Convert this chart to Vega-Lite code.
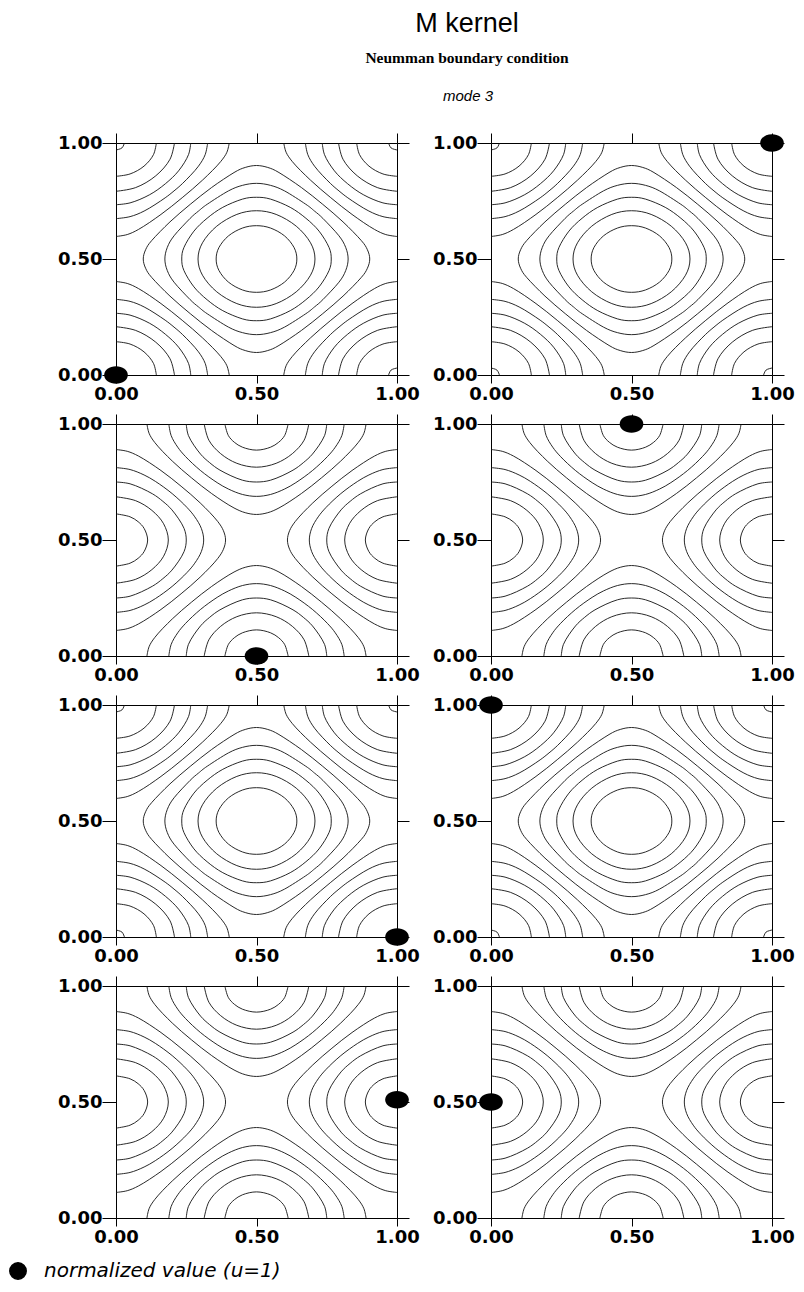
{
  "$schema": "https://vega.github.io/schema/vega-lite/v6.json",
  "background": "white",
  "padding": {"top": 10, "left": 8, "right": 5, "bottom": 5},
  "title": {
    "text": "M kernel",
    "subtitle": "Neumman boundary condition",
    "anchor": "middle",
    "frame": "group",
    "dx": 351,
    "offset": 21,
    "font": "Liberation Sans",
    "fontSize": 27,
    "fontWeight": "normal",
    "color": "black",
    "subtitleFont": "Liberation Serif",
    "subtitleFontSize": 15.5,
    "subtitleFontWeight": "bold",
    "subtitleColor": "black",
    "subtitlePadding": 13
  },
  "datasets": {
    "ringsA": [
      {"k":"r1","x":0.6436,"y":0.5},{"k":"r1","x":0.6334,"y":0.55},{"k":"r1","x":0.5997,"y":0.5997},{"k":"r1","x":0.55,"y":0.6334},{"k":"r1","x":0.5,"y":0.6436},{"k":"r1","x":0.45,"y":0.6334},{"k":"r1","x":0.4003,"y":0.5997},{"k":"r1","x":0.3666,"y":0.55},{"k":"r1","x":0.3564,"y":0.5},{"k":"r1","x":0.3666,"y":0.45},{"k":"r1","x":0.4003,"y":0.4003},{"k":"r1","x":0.45,"y":0.3666},{"k":"r1","x":0.5,"y":0.3564},{"k":"r1","x":0.55,"y":0.3666},{"k":"r1","x":0.5997,"y":0.4003},{"k":"r1","x":0.6334,"y":0.45},
      {"k":"r2","x":0.7081,"y":0.5},{"k":"r2","x":0.6922,"y":0.57},{"k":"r2","x":0.6415,"y":0.6415},{"k":"r2","x":0.57,"y":0.6922},{"k":"r2","x":0.5,"y":0.7081},{"k":"r2","x":0.43,"y":0.6922},{"k":"r2","x":0.3585,"y":0.6415},{"k":"r2","x":0.3078,"y":0.57},{"k":"r2","x":0.2919,"y":0.5},{"k":"r2","x":0.3078,"y":0.43},{"k":"r2","x":0.3585,"y":0.3585},{"k":"r2","x":0.43,"y":0.3078},{"k":"r2","x":0.5,"y":0.2919},{"k":"r2","x":0.57,"y":0.3078},{"k":"r2","x":0.6415,"y":0.3585},{"k":"r2","x":0.6922,"y":0.43},
      {"k":"r3","x":0.766,"y":0.5},{"k":"r3","x":0.7581,"y":0.55},{"k":"r3","x":0.7227,"y":0.62},{"k":"r3","x":0.6757,"y":0.6757},{"k":"r3","x":0.62,"y":0.7227},{"k":"r3","x":0.55,"y":0.7581},{"k":"r3","x":0.5,"y":0.766},{"k":"r3","x":0.45,"y":0.7581},{"k":"r3","x":0.38,"y":0.7227},{"k":"r3","x":0.3243,"y":0.6757},{"k":"r3","x":0.2773,"y":0.62},{"k":"r3","x":0.2419,"y":0.55},{"k":"r3","x":0.234,"y":0.5},{"k":"r3","x":0.2419,"y":0.45},{"k":"r3","x":0.2773,"y":0.38},{"k":"r3","x":0.3243,"y":0.3243},{"k":"r3","x":0.38,"y":0.2773},{"k":"r3","x":0.45,"y":0.2419},{"k":"r3","x":0.5,"y":0.234},{"k":"r3","x":0.55,"y":0.2419},{"k":"r3","x":0.62,"y":0.2773},{"k":"r3","x":0.6757,"y":0.3243},{"k":"r3","x":0.7227,"y":0.38},{"k":"r3","x":0.7581,"y":0.45},
      {"k":"r4","x":0.8261,"y":0.5},{"k":"r4","x":0.8174,"y":0.55},{"k":"r4","x":0.7934,"y":0.6},{"k":"r4","x":0.7363,"y":0.675},{"k":"r4","x":0.7065,"y":0.7065},{"k":"r4","x":0.675,"y":0.7363},{"k":"r4","x":0.6,"y":0.7934},{"k":"r4","x":0.55,"y":0.8174},{"k":"r4","x":0.5,"y":0.8261},{"k":"r4","x":0.45,"y":0.8174},{"k":"r4","x":0.4,"y":0.7934},{"k":"r4","x":0.325,"y":0.7363},{"k":"r4","x":0.2935,"y":0.7065},{"k":"r4","x":0.2637,"y":0.675},{"k":"r4","x":0.2066,"y":0.6},{"k":"r4","x":0.1826,"y":0.55},{"k":"r4","x":0.1739,"y":0.5},{"k":"r4","x":0.1826,"y":0.45},{"k":"r4","x":0.2066,"y":0.4},{"k":"r4","x":0.2637,"y":0.325},{"k":"r4","x":0.2935,"y":0.2935},{"k":"r4","x":0.325,"y":0.2637},{"k":"r4","x":0.4,"y":0.2066},{"k":"r4","x":0.45,"y":0.1826},{"k":"r4","x":0.5,"y":0.1739},{"k":"r4","x":0.55,"y":0.1826},{"k":"r4","x":0.6,"y":0.2066},{"k":"r4","x":0.675,"y":0.2637},{"k":"r4","x":0.7065,"y":0.2935},{"k":"r4","x":0.7363,"y":0.325},{"k":"r4","x":0.7934,"y":0.4},{"k":"r4","x":0.8174,"y":0.45},
      {"k":"r5","x":0.903,"y":0.5},{"k":"r5","x":0.8946,"y":0.54},{"k":"r5","x":0.8726,"y":0.58},{"k":"r5","x":0.8079,"y":0.66},{"k":"r5","x":0.7357,"y":0.7357},{"k":"r5","x":0.66,"y":0.8079},{"k":"r5","x":0.58,"y":0.8726},{"k":"r5","x":0.54,"y":0.8946},{"k":"r5","x":0.5,"y":0.903},{"k":"r5","x":0.46,"y":0.8946},{"k":"r5","x":0.42,"y":0.8726},{"k":"r5","x":0.34,"y":0.8079},{"k":"r5","x":0.2643,"y":0.7357},{"k":"r5","x":0.1921,"y":0.66},{"k":"r5","x":0.1274,"y":0.58},{"k":"r5","x":0.1054,"y":0.54},{"k":"r5","x":0.097,"y":0.5},{"k":"r5","x":0.1054,"y":0.46},{"k":"r5","x":0.1274,"y":0.42},{"k":"r5","x":0.1921,"y":0.34},{"k":"r5","x":0.2643,"y":0.2643},{"k":"r5","x":0.34,"y":0.1921},{"k":"r5","x":0.42,"y":0.1274},{"k":"r5","x":0.46,"y":0.1054},{"k":"r5","x":0.5,"y":0.097},{"k":"r5","x":0.54,"y":0.1054},{"k":"r5","x":0.58,"y":0.1274},{"k":"r5","x":0.66,"y":0.1921},{"k":"r5","x":0.7357,"y":0.2643},{"k":"r5","x":0.8079,"y":0.34},{"k":"r5","x":0.8726,"y":0.42},{"k":"r5","x":0.8946,"y":0.46}
    ],
    "arcsA": [
      {"k":"LLt","x":0.03,"y":0},{"k":"LLt","x":0.0212,"y":0.0212},{"k":"LLt","x":0,"y":0.03},
      {"k":"LL1","x":0.1436,"y":0},{"k":"LL1","x":0.1334,"y":0.05},{"k":"LL1","x":0.0997,"y":0.0997},{"k":"LL1","x":0.05,"y":0.1334},{"k":"LL1","x":0,"y":0.1436},
      {"k":"LL2","x":0.2081,"y":0},{"k":"LL2","x":0.1922,"y":0.07},{"k":"LL2","x":0.1415,"y":0.1415},{"k":"LL2","x":0.07,"y":0.1922},{"k":"LL2","x":0,"y":0.2081},
      {"k":"LL3","x":0.266,"y":0},{"k":"LL3","x":0.2581,"y":0.05},{"k":"LL3","x":0.2227,"y":0.12},{"k":"LL3","x":0.1757,"y":0.1757},{"k":"LL3","x":0.12,"y":0.2227},{"k":"LL3","x":0.05,"y":0.2581},{"k":"LL3","x":0,"y":0.266},
      {"k":"LL4","x":0.3261,"y":0},{"k":"LL4","x":0.3174,"y":0.05},{"k":"LL4","x":0.2934,"y":0.1},{"k":"LL4","x":0.2363,"y":0.175},{"k":"LL4","x":0.2065,"y":0.2065},{"k":"LL4","x":0.175,"y":0.2363},{"k":"LL4","x":0.1,"y":0.2934},{"k":"LL4","x":0.05,"y":0.3174},{"k":"LL4","x":0,"y":0.3261},
      {"k":"LL5","x":0.403,"y":0},{"k":"LL5","x":0.3946,"y":0.04},{"k":"LL5","x":0.3726,"y":0.08},{"k":"LL5","x":0.3079,"y":0.16},{"k":"LL5","x":0.2357,"y":0.2357},{"k":"LL5","x":0.16,"y":0.3079},{"k":"LL5","x":0.08,"y":0.3726},{"k":"LL5","x":0.04,"y":0.3946},{"k":"LL5","x":0,"y":0.403},
      {"k":"LRt","x":0.97,"y":0},{"k":"LRt","x":0.9788,"y":0.0212},{"k":"LRt","x":1,"y":0.03},
      {"k":"LR1","x":0.8564,"y":0},{"k":"LR1","x":0.8666,"y":0.05},{"k":"LR1","x":0.9003,"y":0.0997},{"k":"LR1","x":0.95,"y":0.1334},{"k":"LR1","x":1,"y":0.1436},
      {"k":"LR2","x":0.7919,"y":0},{"k":"LR2","x":0.8078,"y":0.07},{"k":"LR2","x":0.8585,"y":0.1415},{"k":"LR2","x":0.93,"y":0.1922},{"k":"LR2","x":1,"y":0.2081},
      {"k":"LR3","x":0.734,"y":0},{"k":"LR3","x":0.7419,"y":0.05},{"k":"LR3","x":0.7773,"y":0.12},{"k":"LR3","x":0.8243,"y":0.1757},{"k":"LR3","x":0.88,"y":0.2227},{"k":"LR3","x":0.95,"y":0.2581},{"k":"LR3","x":1,"y":0.266},
      {"k":"LR4","x":0.6739,"y":0},{"k":"LR4","x":0.6826,"y":0.05},{"k":"LR4","x":0.7066,"y":0.1},{"k":"LR4","x":0.7637,"y":0.175},{"k":"LR4","x":0.7935,"y":0.2065},{"k":"LR4","x":0.825,"y":0.2363},{"k":"LR4","x":0.9,"y":0.2934},{"k":"LR4","x":0.95,"y":0.3174},{"k":"LR4","x":1,"y":0.3261},
      {"k":"LR5","x":0.597,"y":0},{"k":"LR5","x":0.6054,"y":0.04},{"k":"LR5","x":0.6274,"y":0.08},{"k":"LR5","x":0.6921,"y":0.16},{"k":"LR5","x":0.7643,"y":0.2357},{"k":"LR5","x":0.84,"y":0.3079},{"k":"LR5","x":0.92,"y":0.3726},{"k":"LR5","x":0.96,"y":0.3946},{"k":"LR5","x":1,"y":0.403},
      {"k":"ULt","x":0.03,"y":1},{"k":"ULt","x":0.0212,"y":0.9788},{"k":"ULt","x":0,"y":0.97},
      {"k":"UL1","x":0.1436,"y":1},{"k":"UL1","x":0.1334,"y":0.95},{"k":"UL1","x":0.0997,"y":0.9003},{"k":"UL1","x":0.05,"y":0.8666},{"k":"UL1","x":0,"y":0.8564},
      {"k":"UL2","x":0.2081,"y":1},{"k":"UL2","x":0.1922,"y":0.93},{"k":"UL2","x":0.1415,"y":0.8585},{"k":"UL2","x":0.07,"y":0.8078},{"k":"UL2","x":0,"y":0.7919},
      {"k":"UL3","x":0.266,"y":1},{"k":"UL3","x":0.2581,"y":0.95},{"k":"UL3","x":0.2227,"y":0.88},{"k":"UL3","x":0.1757,"y":0.8243},{"k":"UL3","x":0.12,"y":0.7773},{"k":"UL3","x":0.05,"y":0.7419},{"k":"UL3","x":0,"y":0.734},
      {"k":"UL4","x":0.3261,"y":1},{"k":"UL4","x":0.3174,"y":0.95},{"k":"UL4","x":0.2934,"y":0.9},{"k":"UL4","x":0.2363,"y":0.825},{"k":"UL4","x":0.2065,"y":0.7935},{"k":"UL4","x":0.175,"y":0.7637},{"k":"UL4","x":0.1,"y":0.7066},{"k":"UL4","x":0.05,"y":0.6826},{"k":"UL4","x":0,"y":0.6739},
      {"k":"UL5","x":0.403,"y":1},{"k":"UL5","x":0.3946,"y":0.96},{"k":"UL5","x":0.3726,"y":0.92},{"k":"UL5","x":0.3079,"y":0.84},{"k":"UL5","x":0.2357,"y":0.7643},{"k":"UL5","x":0.16,"y":0.6921},{"k":"UL5","x":0.08,"y":0.6274},{"k":"UL5","x":0.04,"y":0.6054},{"k":"UL5","x":0,"y":0.597},
      {"k":"URt","x":0.97,"y":1},{"k":"URt","x":0.9788,"y":0.9788},{"k":"URt","x":1,"y":0.97},
      {"k":"UR1","x":0.8564,"y":1},{"k":"UR1","x":0.8666,"y":0.95},{"k":"UR1","x":0.9003,"y":0.9003},{"k":"UR1","x":0.95,"y":0.8666},{"k":"UR1","x":1,"y":0.8564},
      {"k":"UR2","x":0.7919,"y":1},{"k":"UR2","x":0.8078,"y":0.93},{"k":"UR2","x":0.8585,"y":0.8585},{"k":"UR2","x":0.93,"y":0.8078},{"k":"UR2","x":1,"y":0.7919},
      {"k":"UR3","x":0.734,"y":1},{"k":"UR3","x":0.7419,"y":0.95},{"k":"UR3","x":0.7773,"y":0.88},{"k":"UR3","x":0.8243,"y":0.8243},{"k":"UR3","x":0.88,"y":0.7773},{"k":"UR3","x":0.95,"y":0.7419},{"k":"UR3","x":1,"y":0.734},
      {"k":"UR4","x":0.6739,"y":1},{"k":"UR4","x":0.6826,"y":0.95},{"k":"UR4","x":0.7066,"y":0.9},{"k":"UR4","x":0.7637,"y":0.825},{"k":"UR4","x":0.7935,"y":0.7935},{"k":"UR4","x":0.825,"y":0.7637},{"k":"UR4","x":0.9,"y":0.7066},{"k":"UR4","x":0.95,"y":0.6826},{"k":"UR4","x":1,"y":0.6739},
      {"k":"UR5","x":0.597,"y":1},{"k":"UR5","x":0.6054,"y":0.96},{"k":"UR5","x":0.6274,"y":0.92},{"k":"UR5","x":0.6921,"y":0.84},{"k":"UR5","x":0.7643,"y":0.7643},{"k":"UR5","x":0.84,"y":0.6921},{"k":"UR5","x":0.92,"y":0.6274},{"k":"UR5","x":0.96,"y":0.6054},{"k":"UR5","x":1,"y":0.597}
    ],
    "arcsB": [
      {"k":"L1","x":0,"y":0.6126},{"k":"L1","x":0.05,"y":0.6},{"k":"L1","x":0.0788,"y":0.5788},{"k":"L1","x":0.1,"y":0.55},{"k":"L1","x":0.1126,"y":0.5},{"k":"L1","x":0.1,"y":0.45},{"k":"L1","x":0.0788,"y":0.4212},{"k":"L1","x":0.05,"y":0.4},{"k":"L1","x":0,"y":0.3874},
      {"k":"L2","x":0,"y":0.6862},{"k":"L2","x":0.07,"y":0.6694},{"k":"L2","x":0.1277,"y":0.6277},{"k":"L2","x":0.1694,"y":0.57},{"k":"L2","x":0.1862,"y":0.5},{"k":"L2","x":0.1694,"y":0.43},{"k":"L2","x":0.1277,"y":0.3723},{"k":"L2","x":0.07,"y":0.3306},{"k":"L2","x":0,"y":0.3138},
      {"k":"L3","x":0,"y":0.75},{"k":"L3","x":0.05,"y":0.7422},{"k":"L3","x":0.13,"y":0.6989},{"k":"L3","x":0.1667,"y":0.6667},{"k":"L3","x":0.1989,"y":0.63},{"k":"L3","x":0.2422,"y":0.55},{"k":"L3","x":0.25,"y":0.5},{"k":"L3","x":0.2422,"y":0.45},{"k":"L3","x":0.1989,"y":0.37},{"k":"L3","x":0.1667,"y":0.3333},{"k":"L3","x":0.13,"y":0.3011},{"k":"L3","x":0.05,"y":0.2578},{"k":"L3","x":0,"y":0.25},
      {"k":"L4","x":0,"y":0.812},{"k":"L4","x":0.05,"y":0.8037},{"k":"L4","x":0.1,"y":0.7803},{"k":"L4","x":0.14,"y":0.7528},{"k":"L4","x":0.1999,"y":0.6999},{"k":"L4","x":0.2528,"y":0.64},{"k":"L4","x":0.2803,"y":0.6},{"k":"L4","x":0.3037,"y":0.55},{"k":"L4","x":0.312,"y":0.5},{"k":"L4","x":0.3037,"y":0.45},{"k":"L4","x":0.2803,"y":0.4},{"k":"L4","x":0.2528,"y":0.36},{"k":"L4","x":0.1999,"y":0.3001},{"k":"L4","x":0.14,"y":0.2472},{"k":"L4","x":0.1,"y":0.2197},{"k":"L4","x":0.05,"y":0.1963},{"k":"L4","x":0,"y":0.188},
      {"k":"L5","x":0,"y":0.8899},{"k":"L5","x":0.04,"y":0.8823},{"k":"L5","x":0.08,"y":0.8619},{"k":"L5","x":0.16,"y":0.7995},{"k":"L5","x":0.2317,"y":0.7317},{"k":"L5","x":0.2995,"y":0.66},{"k":"L5","x":0.3619,"y":0.58},{"k":"L5","x":0.3823,"y":0.54},{"k":"L5","x":0.3899,"y":0.5},{"k":"L5","x":0.3823,"y":0.46},{"k":"L5","x":0.3619,"y":0.42},{"k":"L5","x":0.2995,"y":0.34},{"k":"L5","x":0.2317,"y":0.2683},{"k":"L5","x":0.16,"y":0.2005},{"k":"L5","x":0.08,"y":0.1381},{"k":"L5","x":0.04,"y":0.1177},{"k":"L5","x":0,"y":0.1101},
      {"k":"R1","x":1,"y":0.6126},{"k":"R1","x":0.95,"y":0.6},{"k":"R1","x":0.9212,"y":0.5788},{"k":"R1","x":0.9,"y":0.55},{"k":"R1","x":0.8874,"y":0.5},{"k":"R1","x":0.9,"y":0.45},{"k":"R1","x":0.9212,"y":0.4212},{"k":"R1","x":0.95,"y":0.4},{"k":"R1","x":1,"y":0.3874},
      {"k":"R2","x":1,"y":0.6862},{"k":"R2","x":0.93,"y":0.6694},{"k":"R2","x":0.8723,"y":0.6277},{"k":"R2","x":0.8306,"y":0.57},{"k":"R2","x":0.8138,"y":0.5},{"k":"R2","x":0.8306,"y":0.43},{"k":"R2","x":0.8723,"y":0.3723},{"k":"R2","x":0.93,"y":0.3306},{"k":"R2","x":1,"y":0.3138},
      {"k":"R3","x":1,"y":0.75},{"k":"R3","x":0.95,"y":0.7422},{"k":"R3","x":0.87,"y":0.6989},{"k":"R3","x":0.8333,"y":0.6667},{"k":"R3","x":0.8011,"y":0.63},{"k":"R3","x":0.7578,"y":0.55},{"k":"R3","x":0.75,"y":0.5},{"k":"R3","x":0.7578,"y":0.45},{"k":"R3","x":0.8011,"y":0.37},{"k":"R3","x":0.8333,"y":0.3333},{"k":"R3","x":0.87,"y":0.3011},{"k":"R3","x":0.95,"y":0.2578},{"k":"R3","x":1,"y":0.25},
      {"k":"R4","x":1,"y":0.812},{"k":"R4","x":0.95,"y":0.8037},{"k":"R4","x":0.9,"y":0.7803},{"k":"R4","x":0.86,"y":0.7528},{"k":"R4","x":0.8001,"y":0.6999},{"k":"R4","x":0.7472,"y":0.64},{"k":"R4","x":0.7197,"y":0.6},{"k":"R4","x":0.6963,"y":0.55},{"k":"R4","x":0.688,"y":0.5},{"k":"R4","x":0.6963,"y":0.45},{"k":"R4","x":0.7197,"y":0.4},{"k":"R4","x":0.7472,"y":0.36},{"k":"R4","x":0.8001,"y":0.3001},{"k":"R4","x":0.86,"y":0.2472},{"k":"R4","x":0.9,"y":0.2197},{"k":"R4","x":0.95,"y":0.1963},{"k":"R4","x":1,"y":0.188},
      {"k":"R5","x":1,"y":0.8899},{"k":"R5","x":0.96,"y":0.8823},{"k":"R5","x":0.92,"y":0.8619},{"k":"R5","x":0.84,"y":0.7995},{"k":"R5","x":0.7683,"y":0.7317},{"k":"R5","x":0.7005,"y":0.66},{"k":"R5","x":0.6381,"y":0.58},{"k":"R5","x":0.6177,"y":0.54},{"k":"R5","x":0.6101,"y":0.5},{"k":"R5","x":0.6177,"y":0.46},{"k":"R5","x":0.6381,"y":0.42},{"k":"R5","x":0.7005,"y":0.34},{"k":"R5","x":0.7683,"y":0.2683},{"k":"R5","x":0.84,"y":0.2005},{"k":"R5","x":0.92,"y":0.1381},{"k":"R5","x":0.96,"y":0.1177},{"k":"R5","x":1,"y":0.1101},
      {"k":"D1","x":0.6126,"y":0},{"k":"D1","x":0.6,"y":0.05},{"k":"D1","x":0.5788,"y":0.0788},{"k":"D1","x":0.55,"y":0.1},{"k":"D1","x":0.5,"y":0.1126},{"k":"D1","x":0.45,"y":0.1},{"k":"D1","x":0.4212,"y":0.0788},{"k":"D1","x":0.4,"y":0.05},{"k":"D1","x":0.3874,"y":0},
      {"k":"D2","x":0.6862,"y":0},{"k":"D2","x":0.6694,"y":0.07},{"k":"D2","x":0.6277,"y":0.1277},{"k":"D2","x":0.57,"y":0.1694},{"k":"D2","x":0.5,"y":0.1862},{"k":"D2","x":0.43,"y":0.1694},{"k":"D2","x":0.3723,"y":0.1277},{"k":"D2","x":0.3306,"y":0.07},{"k":"D2","x":0.3138,"y":0},
      {"k":"D3","x":0.75,"y":0},{"k":"D3","x":0.7422,"y":0.05},{"k":"D3","x":0.6989,"y":0.13},{"k":"D3","x":0.6667,"y":0.1667},{"k":"D3","x":0.63,"y":0.1989},{"k":"D3","x":0.55,"y":0.2422},{"k":"D3","x":0.5,"y":0.25},{"k":"D3","x":0.45,"y":0.2422},{"k":"D3","x":0.37,"y":0.1989},{"k":"D3","x":0.3333,"y":0.1667},{"k":"D3","x":0.3011,"y":0.13},{"k":"D3","x":0.2578,"y":0.05},{"k":"D3","x":0.25,"y":0},
      {"k":"D4","x":0.812,"y":0},{"k":"D4","x":0.8037,"y":0.05},{"k":"D4","x":0.7803,"y":0.1},{"k":"D4","x":0.7528,"y":0.14},{"k":"D4","x":0.6999,"y":0.1999},{"k":"D4","x":0.64,"y":0.2528},{"k":"D4","x":0.6,"y":0.2803},{"k":"D4","x":0.55,"y":0.3037},{"k":"D4","x":0.5,"y":0.312},{"k":"D4","x":0.45,"y":0.3037},{"k":"D4","x":0.4,"y":0.2803},{"k":"D4","x":0.36,"y":0.2528},{"k":"D4","x":0.3001,"y":0.1999},{"k":"D4","x":0.2472,"y":0.14},{"k":"D4","x":0.2197,"y":0.1},{"k":"D4","x":0.1963,"y":0.05},{"k":"D4","x":0.188,"y":0},
      {"k":"D5","x":0.8899,"y":0},{"k":"D5","x":0.8823,"y":0.04},{"k":"D5","x":0.8619,"y":0.08},{"k":"D5","x":0.7995,"y":0.16},{"k":"D5","x":0.7317,"y":0.2317},{"k":"D5","x":0.66,"y":0.2995},{"k":"D5","x":0.58,"y":0.3619},{"k":"D5","x":0.54,"y":0.3823},{"k":"D5","x":0.5,"y":0.3899},{"k":"D5","x":0.46,"y":0.3823},{"k":"D5","x":0.42,"y":0.3619},{"k":"D5","x":0.34,"y":0.2995},{"k":"D5","x":0.2683,"y":0.2317},{"k":"D5","x":0.2005,"y":0.16},{"k":"D5","x":0.1381,"y":0.08},{"k":"D5","x":0.1177,"y":0.04},{"k":"D5","x":0.1101,"y":0},
      {"k":"U1","x":0.6126,"y":1},{"k":"U1","x":0.6,"y":0.95},{"k":"U1","x":0.5788,"y":0.9212},{"k":"U1","x":0.55,"y":0.9},{"k":"U1","x":0.5,"y":0.8874},{"k":"U1","x":0.45,"y":0.9},{"k":"U1","x":0.4212,"y":0.9212},{"k":"U1","x":0.4,"y":0.95},{"k":"U1","x":0.3874,"y":1},
      {"k":"U2","x":0.6862,"y":1},{"k":"U2","x":0.6694,"y":0.93},{"k":"U2","x":0.6277,"y":0.8723},{"k":"U2","x":0.57,"y":0.8306},{"k":"U2","x":0.5,"y":0.8138},{"k":"U2","x":0.43,"y":0.8306},{"k":"U2","x":0.3723,"y":0.8723},{"k":"U2","x":0.3306,"y":0.93},{"k":"U2","x":0.3138,"y":1},
      {"k":"U3","x":0.75,"y":1},{"k":"U3","x":0.7422,"y":0.95},{"k":"U3","x":0.6989,"y":0.87},{"k":"U3","x":0.6667,"y":0.8333},{"k":"U3","x":0.63,"y":0.8011},{"k":"U3","x":0.55,"y":0.7578},{"k":"U3","x":0.5,"y":0.75},{"k":"U3","x":0.45,"y":0.7578},{"k":"U3","x":0.37,"y":0.8011},{"k":"U3","x":0.3333,"y":0.8333},{"k":"U3","x":0.3011,"y":0.87},{"k":"U3","x":0.2578,"y":0.95},{"k":"U3","x":0.25,"y":1},
      {"k":"U4","x":0.812,"y":1},{"k":"U4","x":0.8037,"y":0.95},{"k":"U4","x":0.7803,"y":0.9},{"k":"U4","x":0.7528,"y":0.86},{"k":"U4","x":0.6999,"y":0.8001},{"k":"U4","x":0.64,"y":0.7472},{"k":"U4","x":0.6,"y":0.7197},{"k":"U4","x":0.55,"y":0.6963},{"k":"U4","x":0.5,"y":0.688},{"k":"U4","x":0.45,"y":0.6963},{"k":"U4","x":0.4,"y":0.7197},{"k":"U4","x":0.36,"y":0.7472},{"k":"U4","x":0.3001,"y":0.8001},{"k":"U4","x":0.2472,"y":0.86},{"k":"U4","x":0.2197,"y":0.9},{"k":"U4","x":0.1963,"y":0.95},{"k":"U4","x":0.188,"y":1},
      {"k":"U5","x":0.8899,"y":1},{"k":"U5","x":0.8823,"y":0.96},{"k":"U5","x":0.8619,"y":0.92},{"k":"U5","x":0.7995,"y":0.84},{"k":"U5","x":0.7317,"y":0.7683},{"k":"U5","x":0.66,"y":0.7005},{"k":"U5","x":0.58,"y":0.6381},{"k":"U5","x":0.54,"y":0.6177},{"k":"U5","x":0.5,"y":0.6101},{"k":"U5","x":0.46,"y":0.6177},{"k":"U5","x":0.42,"y":0.6381},{"k":"U5","x":0.34,"y":0.7005},{"k":"U5","x":0.2683,"y":0.7683},{"k":"U5","x":0.2005,"y":0.84},{"k":"U5","x":0.1381,"y":0.92},{"k":"U5","x":0.1177,"y":0.96},{"k":"U5","x":0.1101,"y":1}
    ]
  },
  "resolve": {"scale": {"color": "shared"}, "legend": {"color": "shared"}},
  "vconcat": [
    {
      "title": {"text": "mode 3", "anchor": "middle", "frame": "group", "dx": 352, "offset": 29, "font": "Liberation Sans", "fontSize": 15, "fontStyle": "italic", "fontWeight": "normal", "color": "black"},
      "columns": 2,
      "spacing": {"row": 49, "column": 94},
      "bounds": "flush",
      "resolve": {"scale": {"color": "shared"}, "legend": {"color": "shared"}},
      "concat": [
        {"width": 281, "height": 232, "resolve": {"axis": {"x": "independent", "y": "independent"}},
         "layer": [
          {"data": {"name": "arcsA"}, "mark": {"type": "line", "interpolate": "catmull-rom"},
           "encoding": {"x": {"field": "x", "type": "quantitative", "scale": {"domain": [0, 1]}, "title": null, "axis": {"values": [0, 0.5, 1], "format": ".2f"}},
                        "y": {"field": "y", "type": "quantitative", "scale": {"domain": [0, 1]}, "title": null, "axis": {"values": [0, 0.5, 1], "format": ".2f"}},
                        "detail": {"field": "k", "type": "nominal"}, "order": {"value": null}}},
          {"data": {"name": "ringsA"}, "mark": {"type": "line", "interpolate": "cardinal-closed"},
           "encoding": {"x": {"field": "x", "type": "quantitative", "axis": null}, "y": {"field": "y", "type": "quantitative", "axis": null},
                        "detail": {"field": "k", "type": "nominal"}, "order": {"value": null}}},
          {"data": {"values": [{"x": 0, "y": 0}]}, "mark": "point",
           "encoding": {"x": {"field": "x", "type": "quantitative", "title": null, "axis": {"orient": "top", "values": [0, 0.5, 1]}},
                        "y": {"field": "y", "type": "quantitative", "title": null, "axis": {"orient": "right", "values": [0, 0.5, 1]}},
                        "color": {"datum": "normalized value (u=1)", "type": "nominal", "title": null, "scale": {"range": ["black"]}}}}
         ]},
        {"width": 281, "height": 232, "resolve": {"axis": {"x": "independent", "y": "independent"}},
         "layer": [
          {"data": {"name": "arcsA"}, "mark": {"type": "line", "interpolate": "catmull-rom"},
           "encoding": {"x": {"field": "x", "type": "quantitative", "scale": {"domain": [0, 1]}, "title": null, "axis": {"values": [0, 0.5, 1], "format": ".2f"}},
                        "y": {"field": "y", "type": "quantitative", "scale": {"domain": [0, 1]}, "title": null, "axis": {"values": [0, 0.5, 1], "format": ".2f"}},
                        "detail": {"field": "k", "type": "nominal"}, "order": {"value": null}}},
          {"data": {"name": "ringsA"}, "mark": {"type": "line", "interpolate": "cardinal-closed"},
           "encoding": {"x": {"field": "x", "type": "quantitative", "axis": null}, "y": {"field": "y", "type": "quantitative", "axis": null},
                        "detail": {"field": "k", "type": "nominal"}, "order": {"value": null}}},
          {"data": {"values": [{"x": 1, "y": 1}]}, "mark": "point",
           "encoding": {"x": {"field": "x", "type": "quantitative", "title": null, "axis": {"orient": "top", "values": [0, 0.5, 1]}},
                        "y": {"field": "y", "type": "quantitative", "title": null, "axis": {"orient": "right", "values": [0, 0.5, 1]}},
                        "color": {"datum": "normalized value (u=1)", "type": "nominal", "title": null, "scale": {"range": ["black"]}}}}
         ]},
        {"width": 281, "height": 232, "resolve": {"axis": {"x": "independent", "y": "independent"}},
         "layer": [
          {"data": {"name": "arcsB"}, "mark": {"type": "line", "interpolate": "catmull-rom"},
           "encoding": {"x": {"field": "x", "type": "quantitative", "scale": {"domain": [0, 1]}, "title": null, "axis": {"values": [0, 0.5, 1], "format": ".2f"}},
                        "y": {"field": "y", "type": "quantitative", "scale": {"domain": [0, 1]}, "title": null, "axis": {"values": [0, 0.5, 1], "format": ".2f"}},
                        "detail": {"field": "k", "type": "nominal"}, "order": {"value": null}}},
          {"data": {"values": [{"x": 0.5, "y": 0}]}, "mark": "point",
           "encoding": {"x": {"field": "x", "type": "quantitative", "title": null, "axis": {"orient": "top", "values": [0, 0.5, 1]}},
                        "y": {"field": "y", "type": "quantitative", "title": null, "axis": {"orient": "right", "values": [0, 0.5, 1]}},
                        "color": {"datum": "normalized value (u=1)", "type": "nominal", "title": null, "scale": {"range": ["black"]}}}}
         ]},
        {"width": 281, "height": 232, "resolve": {"axis": {"x": "independent", "y": "independent"}},
         "layer": [
          {"data": {"name": "arcsB"}, "mark": {"type": "line", "interpolate": "catmull-rom"},
           "encoding": {"x": {"field": "x", "type": "quantitative", "scale": {"domain": [0, 1]}, "title": null, "axis": {"values": [0, 0.5, 1], "format": ".2f"}},
                        "y": {"field": "y", "type": "quantitative", "scale": {"domain": [0, 1]}, "title": null, "axis": {"values": [0, 0.5, 1], "format": ".2f"}},
                        "detail": {"field": "k", "type": "nominal"}, "order": {"value": null}}},
          {"data": {"values": [{"x": 0.5, "y": 1}]}, "mark": "point",
           "encoding": {"x": {"field": "x", "type": "quantitative", "title": null, "axis": {"orient": "top", "values": [0, 0.5, 1]}},
                        "y": {"field": "y", "type": "quantitative", "title": null, "axis": {"orient": "right", "values": [0, 0.5, 1]}},
                        "color": {"datum": "normalized value (u=1)", "type": "nominal", "title": null, "scale": {"range": ["black"]}}}}
         ]},
        {"width": 281, "height": 232, "resolve": {"axis": {"x": "independent", "y": "independent"}},
         "layer": [
          {"data": {"name": "arcsA"}, "mark": {"type": "line", "interpolate": "catmull-rom"},
           "encoding": {"x": {"field": "x", "type": "quantitative", "scale": {"domain": [0, 1]}, "title": null, "axis": {"values": [0, 0.5, 1], "format": ".2f"}},
                        "y": {"field": "y", "type": "quantitative", "scale": {"domain": [0, 1]}, "title": null, "axis": {"values": [0, 0.5, 1], "format": ".2f"}},
                        "detail": {"field": "k", "type": "nominal"}, "order": {"value": null}}},
          {"data": {"name": "ringsA"}, "mark": {"type": "line", "interpolate": "cardinal-closed"},
           "encoding": {"x": {"field": "x", "type": "quantitative", "axis": null}, "y": {"field": "y", "type": "quantitative", "axis": null},
                        "detail": {"field": "k", "type": "nominal"}, "order": {"value": null}}},
          {"data": {"values": [{"x": 1, "y": 0}]}, "mark": "point",
           "encoding": {"x": {"field": "x", "type": "quantitative", "title": null, "axis": {"orient": "top", "values": [0, 0.5, 1]}},
                        "y": {"field": "y", "type": "quantitative", "title": null, "axis": {"orient": "right", "values": [0, 0.5, 1]}},
                        "color": {"datum": "normalized value (u=1)", "type": "nominal", "title": null, "scale": {"range": ["black"]}}}}
         ]},
        {"width": 281, "height": 232, "resolve": {"axis": {"x": "independent", "y": "independent"}},
         "layer": [
          {"data": {"name": "arcsA"}, "mark": {"type": "line", "interpolate": "catmull-rom"},
           "encoding": {"x": {"field": "x", "type": "quantitative", "scale": {"domain": [0, 1]}, "title": null, "axis": {"values": [0, 0.5, 1], "format": ".2f"}},
                        "y": {"field": "y", "type": "quantitative", "scale": {"domain": [0, 1]}, "title": null, "axis": {"values": [0, 0.5, 1], "format": ".2f"}},
                        "detail": {"field": "k", "type": "nominal"}, "order": {"value": null}}},
          {"data": {"name": "ringsA"}, "mark": {"type": "line", "interpolate": "cardinal-closed"},
           "encoding": {"x": {"field": "x", "type": "quantitative", "axis": null}, "y": {"field": "y", "type": "quantitative", "axis": null},
                        "detail": {"field": "k", "type": "nominal"}, "order": {"value": null}}},
          {"data": {"values": [{"x": 0, "y": 1}]}, "mark": "point",
           "encoding": {"x": {"field": "x", "type": "quantitative", "title": null, "axis": {"orient": "top", "values": [0, 0.5, 1]}},
                        "y": {"field": "y", "type": "quantitative", "title": null, "axis": {"orient": "right", "values": [0, 0.5, 1]}},
                        "color": {"datum": "normalized value (u=1)", "type": "nominal", "title": null, "scale": {"range": ["black"]}}}}
         ]},
        {"width": 281, "height": 232, "resolve": {"axis": {"x": "independent", "y": "independent"}},
         "layer": [
          {"data": {"name": "arcsB"}, "mark": {"type": "line", "interpolate": "catmull-rom"},
           "encoding": {"x": {"field": "x", "type": "quantitative", "scale": {"domain": [0, 1]}, "title": null, "axis": {"values": [0, 0.5, 1], "format": ".2f"}},
                        "y": {"field": "y", "type": "quantitative", "scale": {"domain": [0, 1]}, "title": null, "axis": {"values": [0, 0.5, 1], "format": ".2f"}},
                        "detail": {"field": "k", "type": "nominal"}, "order": {"value": null}}},
          {"data": {"values": [{"x": 1, "y": 0.51}]}, "mark": "point",
           "encoding": {"x": {"field": "x", "type": "quantitative", "title": null, "axis": {"orient": "top", "values": [0, 0.5, 1]}},
                        "y": {"field": "y", "type": "quantitative", "title": null, "axis": {"orient": "right", "values": [0, 0.5, 1]}},
                        "color": {"datum": "normalized value (u=1)", "type": "nominal", "title": null, "scale": {"range": ["black"]}}}}
         ]},
        {"width": 281, "height": 232, "resolve": {"axis": {"x": "independent", "y": "independent"}},
         "layer": [
          {"data": {"name": "arcsB"}, "mark": {"type": "line", "interpolate": "catmull-rom"},
           "encoding": {"x": {"field": "x", "type": "quantitative", "scale": {"domain": [0, 1]}, "title": null, "axis": {"values": [0, 0.5, 1], "format": ".2f"}},
                        "y": {"field": "y", "type": "quantitative", "scale": {"domain": [0, 1]}, "title": null, "axis": {"values": [0, 0.5, 1], "format": ".2f"}},
                        "detail": {"field": "k", "type": "nominal"}, "order": {"value": null}}},
          {"data": {"values": [{"x": 0, "y": 0.5}]}, "mark": "point",
           "encoding": {"x": {"field": "x", "type": "quantitative", "title": null, "axis": {"orient": "top", "values": [0, 0.5, 1]}},
                        "y": {"field": "y", "type": "quantitative", "title": null, "axis": {"orient": "right", "values": [0, 0.5, 1]}},
                        "color": {"datum": "normalized value (u=1)", "type": "nominal", "title": null, "scale": {"range": ["black"]}}}}
         ]}
      ]
    }
  ],
  "config": {
    "view": {"stroke": null},
    "line": {"color": "#111111", "strokeWidth": 0.9},
    "point": {"filled": true, "shape": "M-1,0A1,0.74,0,1,1,1,0A1,0.74,0,1,1,-1,0Z", "size": 560, "opacity": 1},
    "axis": {"grid": false, "domainColor": "black", "domainWidth": 1, "tickColor": "black", "tickWidth": 1,
             "labelFont": "DejaVu Sans", "labelFontSize": 18, "labelFontWeight": "bold", "labelColor": "black",
             "labelFlush": false, "labelOverlap": false},
    "axisBottom": {"tickSize": 8, "labelPadding": 2},
    "axisLeft": {"tickSize": 14, "labelPadding": 0},
    "axisTop": {"tickSize": 10, "labels": false},
    "axisRight": {"tickSize": 12, "labels": false},
    "legend": {"orient": "none", "legendX": -108, "legendY": 1118, "symbolType": "circle", "symbolSize": 270,
               "symbolFillColor": "black", "symbolStrokeColor": "black",
               "labelFont": "DejaVu Sans", "labelFontStyle": "italic", "labelFontSize": 20, "labelColor": "black",
               "labelOffset": 16, "labelLimit": 400, "padding": 0}
  }
}
